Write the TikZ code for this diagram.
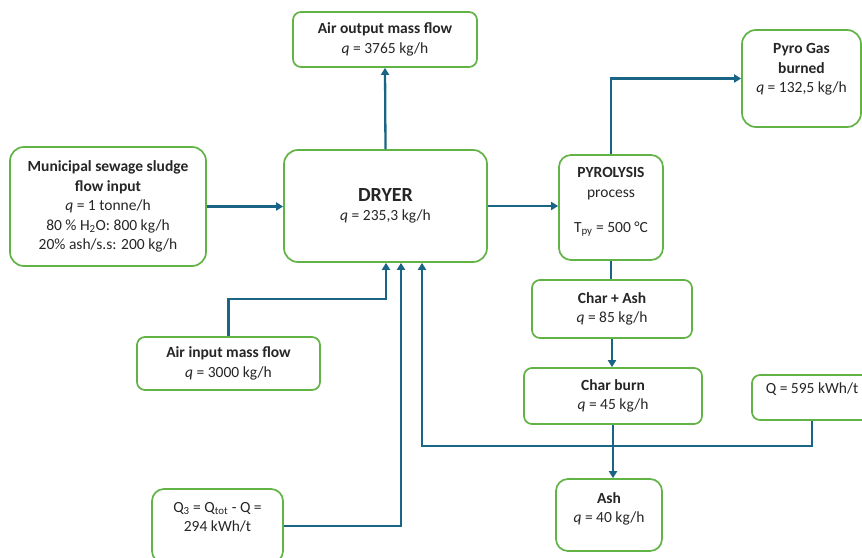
\documentclass[tikz,border=0pt]{standalone}
\usepackage{fontspec}
\setmainfont{Carlito}
\usepackage{tikz}
\usetikzlibrary{arrows.meta, positioning}
\definecolor{boxgreen}{HTML}{62B346}
\definecolor{flowblue}{HTML}{1A6585}
\definecolor{textgray}{HTML}{262626}

\begin{document}
\begin{tikzpicture}[
  x=1pt, y=-1pt,
  box/.style={rectangle, rounded corners=10pt, draw=boxgreen, line width=1.7pt, fill=white, text=textgray, align=center, inner sep=2pt, font=\fontsize{15.5}{19.5}\selectfont},
  flow/.style={-{Triangle[length=7pt, width=8pt]}, line width=2.3pt, color=flowblue},
  link/.style={line width=2.3pt, color=flowblue},
]
\useasboundingbox (0,0) rectangle (862,557);

\node[box, rounded corners=14pt, minimum width=196pt, minimum height=119pt] (sludge) at (108,206.5) {\textbf{Municipal sewage sludge}\\\textbf{flow input}\\\textit{q} = 1 tonne/h\\80 \% H\textsubscript{2}O: 800 kg/h\\20\% ash/s.s: 200 kg/h};
\node[box, rounded corners=14pt, minimum width=203pt, minimum height=112pt] (dryer) at (385.5,206) {{\fontsize{20}{21}\selectfont\textbf{DRYER}}\\\textit{q} = 235,3 kg/h};
\node[box, rounded corners=8pt, minimum width=184pt, minimum height=55pt] (airout) at (385,39.5) {\textbf{Air output mass flow}\\\textit{q} = 3765 kg/h};
\node[box, rounded corners=12pt, minimum width=104pt, minimum height=105pt] (pyro) at (611,207.5) {\textbf{PYROLYSIS}\\process\\[16pt]T\textsubscript{py} = 500 °C\\[-4.5pt]};
\node[box, rounded corners=14pt, minimum width=119pt, minimum height=97pt] (gas) at (801.5,78.5) {\textbf{Pyro Gas}\\\textbf{burned}\\\textit{q} = 132,5 kg/h\\[1.5pt]};
\node[box, rounded corners=8pt, minimum width=183pt, minimum height=53pt] (airin) at (228.5,363.5) {\textbf{Air input mass flow}\\\textit{q} = 3000 kg/h};
\node[box, rounded corners=8pt, minimum width=160pt, minimum height=58pt] (charash) at (612,309) {\textbf{Char + Ash}\\\textit{q} = 85 kg/h};
\node[box, rounded corners=8pt, minimum width=178pt, minimum height=56pt] (charburn) at (613,396) {\textbf{Char burn}\\\textit{q} = 45 kg/h};
\node[box, rounded corners=8pt, minimum width=120pt, minimum height=45pt] (heat) at (812,397.5) {Q = 595 kWh/t\\[-0.5pt]};
\node[box, rounded corners=12pt, minimum width=106pt, minimum height=72pt] (ash) at (609,515) {\textbf{Ash}\\\textit{q} = 40 kg/h\\[-4.5pt]};
\node[box, rounded corners=12pt, minimum width=131pt, minimum height=74pt] (rest) at (217.5,526) {Q\textsubscript{3} = Q\textsubscript{tot} - Q =\\294 kWh/t\\[-1.5pt]};

\coordinate (in1) at ([xshift=0.5pt]dryer.south);
\coordinate (in2) at ([xshift=15.5pt]dryer.south);
\coordinate (in3) at ([xshift=36.5pt]dryer.south);

\draw[flow] (sludge.east) -- (sludge.east -| dryer.west);
\draw[flow] (dryer.north) -- (airout.south);
\draw[flow] (dryer.east) -- (dryer.east -| pyro.west);
\draw[flow] (pyro.north) |- (gas.west);
\draw[link] (pyro.south) -- (pyro.south |- charash.north);
\draw[flow] (charash.south) -- (charash.south |- charburn.north);
\draw[flow] (charburn.south) -- (charburn.south |- ash.north);
\draw[flow] (airin.north) -- ++(0,-37) -| (in1);
\draw[flow] (rest.east) -| (in2);
\draw[flow] (heat.south) -- ++(0,25) -| (in3);
\end{tikzpicture}
\end{document}
